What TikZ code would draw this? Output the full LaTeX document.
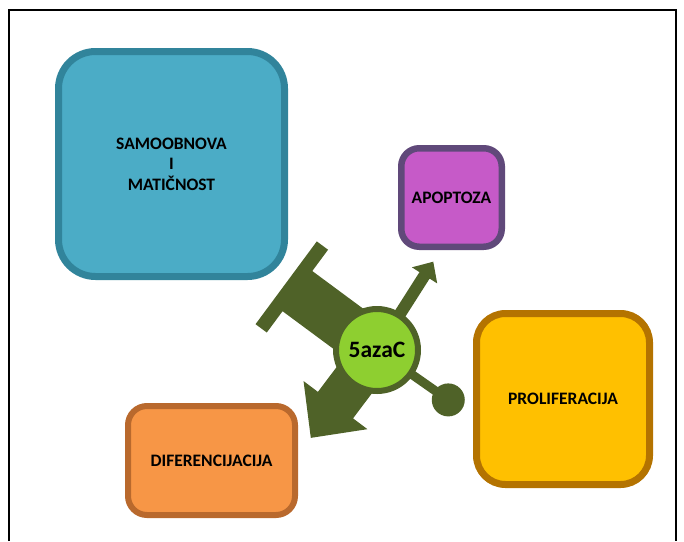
\documentclass[tikz,border=0pt]{standalone}
\usepackage{fontspec}
\setmainfont{Carlito}
\usetikzlibrary{calc}
\definecolor{blueF}{RGB}{75,172,198}
\definecolor{blueD}{RGB}{49,132,155}
\definecolor{purpF}{RGB}{198,90,200}
\definecolor{purpD}{RGB}{96,73,122}
\definecolor{oranF}{RGB}{247,150,70}
\definecolor{oranD}{RGB}{185,105,45}
\definecolor{yellF}{RGB}{255,192,0}
\definecolor{yellD}{RGB}{180,115,0}
\definecolor{oliveD}{RGB}{79,98,40}
\definecolor{limeF}{RGB}{142,207,48}
\begin{document}
\begin{tikzpicture}[x=1pt,y=-1pt,
  box/.style={draw, rounded corners=#1, align=center, inner sep=0pt,
    font=\bfseries\fontsize{17.5}{20.5}\selectfont, text=black},
  conn/.style={fill=oliveD, draw=none}]
\useasboundingbox (0,0) rectangle (684,541);
% frame
\draw[line width=2pt] (9,541) -- (9,10) -- (676,10) -- (676,541);
% boxes
\node[box=37, line width=7pt, draw=blueD, fill=blueF, minimum width=226, minimum height=225]
  (samo) at (171.5,164) {SAMOOBNOVA\\I\\MATIČNOST};
\node[box=18, line width=6.5pt, draw=purpD, fill=purpF, minimum width=100.5, minimum height=98.5]
  (apo) at (451.5,197.5) {APOPTOZA};
\node[box=19, line width=6pt, draw=oranD, fill=oranF, minimum width=167, minimum height=109]
  (dif) at (211.5,460.5) {DIFERENCIJACIJA};
\node[box=29, line width=7pt, draw=yellD, fill=yellF, minimum width=173, minimum height=171]
  (pro) at (563,399) {PROLIFERACIJA};
% centre
\coordinate (o) at (377,350);
% inhibition T toward samoobnova
\begin{scope}[shift={(o)}, rotate=143.5]
  \fill[conn] (0,-25) -- (99,-25) -- (99,-51.5) -- (113,-51.5) -- (113,51.5)
    -- (99,51.5) -- (99,25) -- (0,25) -- cycle;
\end{scope}
% big arrow toward diferencijacija
\begin{scope}[shift={(o)}, rotate=233]
  \fill[conn] (0,-22) -- (69,-22) -- (69,-40) -- (110,0) -- (69,40)
    -- (69,22) -- (0,22) -- cycle;
\end{scope}
% thin arrow toward apoptoza
\begin{scope}[shift={(o)}, rotate=57.5]
  \fill[conn] (0,-6) -- (88.5,-6) -- (88.5,-15) -- (104.7,0) -- (88.5,15)
    -- (88.5,6) -- (0,6) -- cycle;
\end{scope}
% ball-ended line toward proliferacija
\coordinate (ballc) at ($(o)+(-35:87pt)$);
\draw[oliveD, line width=9pt] (o) -- (ballc);
\node[circle, fill=oliveD, minimum size=33, inner sep=0pt] (ball) at (ballc) {};
% centre circle
\node[circle, draw=oliveD, line width=6pt, fill=limeF, minimum size=82, inner sep=0pt,
  font=\bfseries\fontsize{23.5}{26}\selectfont] (c) at (o) {5azaC};
\end{tikzpicture}
\end{document}
